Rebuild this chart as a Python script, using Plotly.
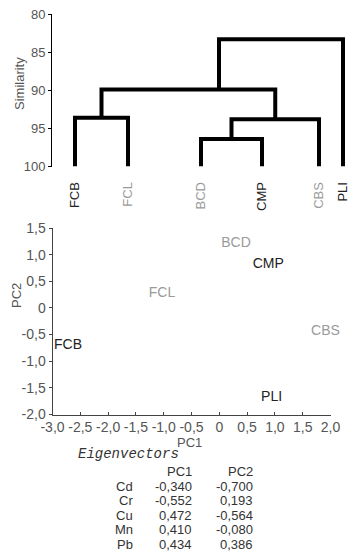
import plotly.graph_objects as go

# ---------------- data ----------------
# Dendrogram (similarity, %)
LEAVES = ["FCB", "FCL", "BCD", "CMP", "CBS", "PLI"]
LEAF_IS_GRAY = [False, True, True, False, True, False]
# merges: node ids 0-5 are leaves, 6.. are merge nodes in order
MERGE_LEFT = [0, 2, 7, 6, 9]
MERGE_RIGHT = [1, 3, 4, 8, 5]
MERGE_SIM = [93.6, 96.4, 93.8, 89.9, 83.3]
SIM_TICKS = [80, 85, 90, 95, 100]

# PCA scores
SAMPLES = ["FCB", "FCL", "BCD", "CMP", "CBS", "PLI"]
SAMPLE_IS_GRAY = [False, True, True, False, True, False]
PC1 = [-2.72, -1.03, 0.30, 0.88, 1.91, 0.94]
PC2 = [-0.71, 0.28, 1.20, 0.81, -0.45, -1.69]
PC1_TICKS = [-3.0, -2.5, -2.0, -1.5, -1.0, -0.5, 0.0, 0.5, 1.0, 1.5, 2.0]
PC2_TICKS = [-2.0, -1.5, -1.0, -0.5, 0.0, 0.5, 1.0, 1.5]

# Eigenvectors table
EV_VARS = ["Cd", "Cr", "Cu", "Mn", "Pb"]
EV_PC1 = [-0.340, -0.552, 0.472, 0.410, 0.434]
EV_PC2 = [-0.700, 0.193, -0.564, -0.080, 0.386]

# ---------------- layout constants ----------------
W, H = 352, 552
LEAF_AXIS_POS = [75, 128, 201, 262, 319, 343]   # leaf slots on dendrogram x axis
STEM_OVERRIDE = {9: 219}                          # drawn stem position of node 9
GRAY = "#9a9a9a"
DARK = "#222222"
TICKC = "#555555"
FONT = "Liberation Sans, Arial, sans-serif"


def px(x):
    return x / W


def py(y):
    return 1 - y / H


def fmt(v, nd=1):
    if v == 0:
        return "0"
    return f"{v:.{nd}f}".replace(".", ",")


fig = go.Figure()

# ---------------- dendrogram ----------------
node_x = list(LEAF_AXIS_POS)
node_h = [100.0] * len(LEAVES)
for i, (l, r, h) in enumerate(zip(MERGE_LEFT, MERGE_RIGHT, MERGE_SIM)):
    nid = len(LEAVES) + i
    xl, xr = node_x[l], node_x[r]
    fig.add_trace(go.Scatter(
        x=[xl, xl, xr, xr], y=[node_h[l], h, h, node_h[r]],
        mode="lines", line=dict(color="black", width=4),
        xaxis="x", yaxis="y", showlegend=False, hoverinfo="skip",
        cliponaxis=False))
    node_x.append(STEM_OVERRIDE.get(nid, (xl + xr) / 2))
    node_h.append(h)

leaf_text = [f'<span style="color:{GRAY if g else DARK}">{n}</span>'
             for n, g in zip(LEAVES, LEAF_IS_GRAY)]

# ---------------- PCA scatter ----------------
fig.add_trace(go.Scatter(
    x=PC1, y=PC2, text=SAMPLES, mode="text",
    textposition="middle center",
    textfont=dict(family=FONT, size=14,
                  color=[GRAY if g else DARK for g in SAMPLE_IS_GRAY]),
    xaxis="x2", yaxis="y2", showlegend=False, hoverinfo="skip",
    cliponaxis=False))


def ann(text, x, y, xanchor="center", angle=0, font=None):
    return dict(text=text, x=px(x), y=py(y), xref="paper", yref="paper",
                xanchor=xanchor, yanchor="middle", textangle=angle,
                borderpad=0, showarrow=False,
                font=font or dict(family=FONT, size=13, color=TICKC))


annotations = [
    ann("Similarity", 19, 84, angle=-90),
    ann("PC2", 16, 296, angle=-90),
    ann("PC1", 189, 442),
    ann("<i>Eigenvectors</i>", 77, 454, xanchor="left",
        font=dict(family="Liberation Mono, Courier New, monospace", size=14, color="#333")),
]

# table
col_right = [134, 193, 254]
header_y = 471
row_y0, row_dy = 486.5, 14.4
tfont = dict(family=FONT, size=13, color="#333")
for cx, txt in zip(col_right[1:], ["PC1", "PC2"]):
    annotations.append(ann(txt, cx, header_y, xanchor="right", font=tfont))
for i, (v, a, b) in enumerate(zip(EV_VARS, EV_PC1, EV_PC2)):
    for cx, txt in zip(col_right, [v, fmt(a, 3), fmt(b, 3)]):
        annotations.append(ann(txt, cx, row_y0 + i * row_dy, xanchor="right", font=tfont))

fig.update_layout(
    width=W, height=H,
    margin=dict(l=0, r=0, t=0, b=0, pad=0, autoexpand=False),
    paper_bgcolor="white", plot_bgcolor="rgba(0,0,0,0)",
    font=dict(family=FONT, color=TICKC),
    xaxis=dict(domain=[px(52), 1], range=[52, 352], anchor="y",
               tickvals=LEAF_AXIS_POS, ticktext=leaf_text, tickangle=-90,
               ticks="", showline=False, showgrid=False, zeroline=False,
               ticklabelstandoff=12, automargin=False,
               tickfont=dict(family=FONT, size=13)),
    yaxis=dict(domain=[py(166.5), py(14)], range=[100, 80], anchor="x",
               tickvals=SIM_TICKS, ticktext=[str(t) for t in SIM_TICKS],
               ticks="outside", ticklen=3, tickcolor="black",
               showline=True, linecolor="black", linewidth=1,
               showgrid=False, zeroline=False, automargin=False,
               tickfont=dict(family=FONT, size=13, color=TICKC)),
    xaxis2=dict(domain=[px(52.5), px(330.5)], range=[-3, 2], anchor="y2",
                tickvals=PC1_TICKS, ticktext=[fmt(t) for t in PC1_TICKS],
                tickangle=0,
                ticks="inside", ticklen=3, tickcolor="#444",
                showline=True, linecolor="#444", linewidth=1,
                showgrid=False, zeroline=False, automargin=False,
                tickfont=dict(family=FONT, size=14, color=TICKC)),
    yaxis2=dict(domain=[py(414.5), py(228)], range=[-2, 1.5], anchor="x2",
                tickvals=PC2_TICKS, ticktext=[fmt(t) for t in PC2_TICKS],
                ticks="outside", ticklen=3, tickcolor="#444",
                showline=True, linecolor="#444", linewidth=1,
                showgrid=False, zeroline=False, automargin=False,
                tickfont=dict(family=FONT, size=14, color=TICKC)),
    annotations=annotations,
)

fig.write_html("out.html",
               config={"displayModeBar": False},
               post_script="document.body.style.margin='0';document.body.style.padding='0';")
